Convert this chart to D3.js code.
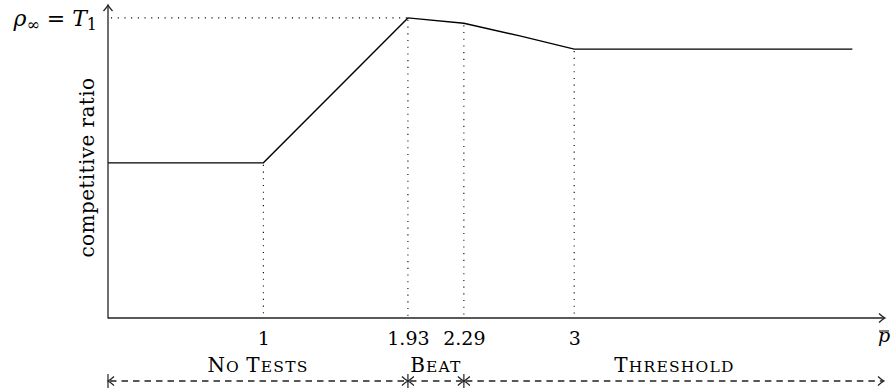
<!DOCTYPE html>
<html>
<head>
<meta charset="utf-8">
<script src="https://cdn.jsdelivr.net/npm/d3@7"></script>
<style>
  html, body { margin: 0; padding: 0; background: #fff; }
  svg text { font-family: "DejaVu Serif", "Liberation Serif", serif; fill: #000; }
</style>
</head>
<body>
<svg id="chart" width="894" height="390"></svg>
<script>
// Data
const curveX = [0, 1, 1.93, 2.29, 2.65, 3, 4.79];
const curveY = [0.517, 0.517, 1.0, 0.982, 0.94, 0.896, 0.896];
const tickValues = [1, 1.93, 2.29, 3];
const tickLabels = ["1", "1.93", "2.29", "3"];
const regionNames = ["No Tests", "Beat", "Threshold"];
const regionBounds = [0, 1.93, 2.29, 5];
const peakValue = 1.0;

//Helpers
const translate = (x, y) => `translate(${x}, ${y})`;
const arrowHead = "M -6 -4.5 Q -2.5 -1.2 0 0 Q -2.5 1.2 -6 4.5";

const width = 894, height = 390;
const margins = { top: 5, right: 9, bottom: 72, left: 108 };

const svg = d3.select("#chart");

const xScale = d3.scaleLinear()
    .domain([0, 5])
    .range([margins.left, width - margins.right]);
const yScale = d3.scaleLinear()
    .domain([0, 1.043])
    .range([height - margins.bottom, margins.top]);

const x0 = xScale(0), y0 = yScale(0);

// Dotted guides
const dotted = svg.append("g")
    .attr("fill", "none")
    .attr("stroke", "#000")
    .attr("stroke-width", 1.1)
    .attr("stroke-dasharray", "1.1 5.6");

dotted.append("line")
    .attr("x1", x0 + 3).attr("x2", xScale(tickValues[1]))
    .attr("y1", yScale(peakValue)).attr("y2", yScale(peakValue));

const yAt = v => yScale(curveY[curveX.indexOf(v)]);
dotted.selectAll("line.v")
    .data(tickValues)
    .join("line")
    .attr("class", "v")
    .attr("x1", d => xScale(d)).attr("x2", d => xScale(d))
    .attr("y1", d => yAt(d) + 2)
    .attr("y2", y0 - 1);

// Curve
const line = d3.line()
    .x(d => xScale(d[0]))
    .y(d => yScale(d[1]));
svg.append("path")
    .datum(d3.zip(curveX, curveY))
    .attr("d", line)
    .attr("fill", "none")
    .attr("stroke", "#000")
    .attr("stroke-width", 1.4);

// Axes (no tick marks, arrow ends)
const xAxis = d3.axisBottom(xScale)
    .tickValues(tickValues)
    .tickFormat((d, i) => tickLabels[i])
    .tickSize(0)
    .tickPadding(14);
const xAxisG = svg.append("g")
    .attr("transform", translate(0, y0))
    .call(xAxis);
xAxisG.select(".domain").remove();
xAxisG.selectAll("text")
    .attr("font-size", 19)
    .style("font-family", "DejaVu Serif");

const axes = svg.append("g")
    .attr("fill", "none")
    .attr("stroke", "#222")
    .attr("stroke-width", 1.3);
axes.append("line")
    .attr("x1", x0).attr("y1", y0)
    .attr("x2", xScale(5) - 1).attr("y2", y0);
axes.append("line")
    .attr("x1", x0).attr("y1", y0 + 0.6)
    .attr("x2", x0).attr("y2", yScale(1.043) + 1);
axes.append("path")
    .attr("d", arrowHead)
    .attr("transform", translate(xScale(5), y0));
axes.append("path")
    .attr("d", arrowHead)
    .attr("transform", translate(x0, yScale(1.043)) + " rotate(-90)");

// Axis labels
svg.append("text")
    .attr("transform", translate(94, (y0 + yScale(1.043)) / 2 + 6) + " rotate(-90)")
    .attr("text-anchor", "middle")
    .attr("font-size", 20)
    .attr("letter-spacing", 0.4)
    .text("competitive ratio");

svg.append("text")
    .attr("x", xScale(5) - 1)
    .attr("y", y0 + 24)
    .attr("text-anchor", "middle")
    .attr("font-size", 19)
    .attr("font-style", "italic")
    .text("p");
svg.append("line")
    .attr("x1", xScale(5) - 6).attr("x2", xScale(5) + 4)
    .attr("y1", y0 + 13).attr("y2", y0 + 13)
    .attr("stroke", "#000").attr("stroke-width", 1);

const rho = svg.append("text")
    .attr("x", 97)
    .attr("y", yScale(peakValue) + 8)
    .attr("text-anchor", "end")
    .attr("font-size", 22);
rho.append("tspan").attr("font-style", "italic").text("ρ");
rho.append("tspan").attr("font-size", 16).attr("dy", 4).text("∞");
rho.append("tspan").attr("dy", -4).text(" = ");
rho.append("tspan").attr("font-style", "italic").text("T");
rho.append("tspan").attr("font-size", 16).attr("dy", 4).text("1");

// Region labels with dashed arrows
const regionY = 381;
const regions = regionNames.map((name, i) => ({
    name, from: regionBounds[i], to: regionBounds[i + 1]
}));

const regionG = svg.append("g")
    .selectAll("g.region")
    .data(regions)
    .join("g")
    .attr("class", "region");

// small caps drawn by hand: capitals big, the rest as smaller capitals
const regionText = regionG.append("text")
    .attr("x", d => (xScale(d.from) + xScale(d.to)) / 2)
    .attr("y", regionY - 9)
    .attr("text-anchor", "middle")
    .attr("font-size", 20)
    .attr("letter-spacing", 1.2);
regionText.each(function (d) {
    const t = d3.select(this);
    d.name.split(/(?=[A-Z ])/).forEach(part => {
        const lead = part[0], rest = part.slice(1);
        t.append("tspan").attr("font-size", lead === " " ? 16 : 20).text(lead);
        if (rest) t.append("tspan").attr("font-size", 15.5).text(rest.toUpperCase());
    });
});

regionG.append("line")
    .attr("x1", d => xScale(d.from) + 2)
    .attr("x2", d => xScale(d.to) - 2)
    .attr("y1", regionY).attr("y2", regionY)
    .attr("stroke", "#222")
    .attr("stroke-width", 1.3)
    .attr("stroke-dasharray", "6.5 5");

regionG.append("line")
    .attr("x1", d => xScale(d.from)).attr("x2", d => xScale(d.from))
    .attr("y1", regionY - 7).attr("y2", regionY + 7)
    .attr("stroke", "#222").attr("stroke-width", 1.2);

regionG.append("path")
    .attr("d", arrowHead)
    .attr("fill", "none").attr("stroke", "#222").attr("stroke-width", 1.2)
    .attr("transform", d => translate(xScale(d.from), regionY) + " rotate(180)");
regionG.append("path")
    .attr("d", arrowHead)
    .attr("fill", "none").attr("stroke", "#222").attr("stroke-width", 1.2)
    .attr("transform", d => translate(xScale(d.to) - (d.to === 5 ? 1 : 0), regionY));
</script>
</body>
</html>
